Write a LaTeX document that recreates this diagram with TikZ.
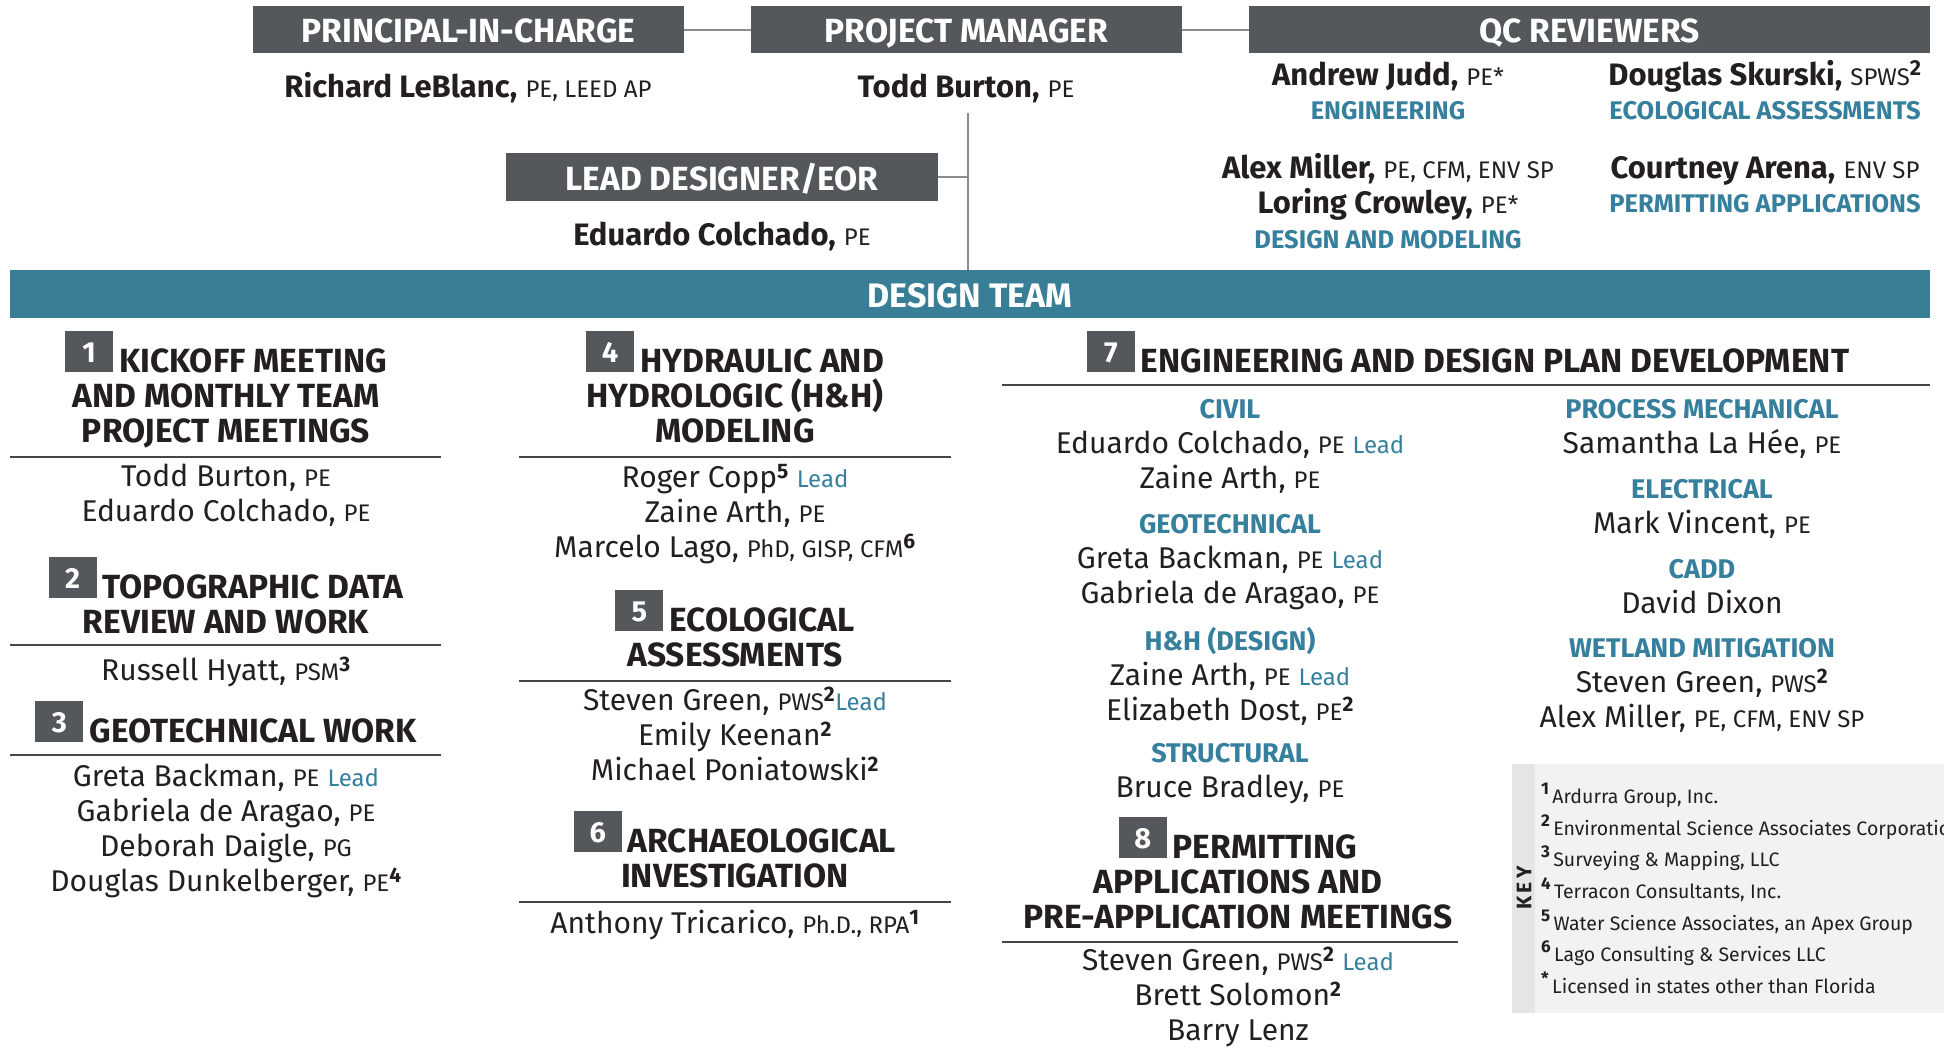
\documentclass[tikz,border=0pt]{standalone}
\usepackage{fontspec}
\setmainfont{Fira Sans}
\usetikzlibrary{positioning}
\definecolor{boxgray}{RGB}{84,88,91}
\definecolor{teamblue}{RGB}{57,126,151}
\definecolor{tealtext}{RGB}{54,128,158}
\definecolor{inkblack}{RGB}{35,31,32}
\definecolor{rulegray}{RGB}{70,70,70}
\definecolor{linkgray}{RGB}{140,140,140}
\definecolor{keybg}{RGB}{241,242,242}
\definecolor{keystrip}{RGB}{228,229,230}

\newcommand{\crd}[1]{{\fontsize{24}{35}\selectfont #1}}
\newcommand{\leadtag}{{\fontsize{24}{35}\selectfont\color{tealtext}Lead}}
\newcommand{\subhd}{\fontsize{27}{35}\selectfont\bfseries\color{tealtext}}
\newcommand{\fnote}[1]{\textsuperscript{\bfseries #1}}
\newcommand{\keynote}[1]{\raisebox{9pt}{\fontsize{17}{17}\selectfont\bfseries #1}\,}
\newcommand{\numbox}[1]{{\color{boxgray}\rule{48pt}{41pt}}\llap{\makebox[48pt]{\color{white}\raisebox{10pt}{\fontsize{29}{29}\selectfont #1}}}\hspace{6pt}}

\begin{document}
\begin{tikzpicture}[x=1pt, y=-1pt,
  hd/.style={fill=boxgray, text=white, font=\fontsize{33.5}{35}\selectfont\bfseries, minimum height=47pt, inner sep=0pt, text height=26pt, text depth=0pt},
  band/.style={fill=teamblue, text=white, font=\fontsize{34}{35}\selectfont\bfseries, minimum width=1920pt, minimum height=48pt, inner sep=0pt, text height=26pt, text depth=0pt},
  tp/.style={text=inkblack, font=\fontsize{31}{35}\selectfont, anchor=base, inner sep=0pt},
  qcsub/.style={text=tealtext, font=\fontsize{25.5}{35}\selectfont\bfseries, anchor=base, inner sep=0pt},
  sec/.style={text=inkblack, font=\fontsize{33.5}{35}\selectfont\bfseries, align=center, anchor=north, inner sep=0pt},
  nl/.style={text=inkblack, font=\fontsize{30}{35}\selectfont, align=center, anchor=north, inner sep=0pt, execute at begin node={\rule{0pt}{26pt}}},
  key/.style={text=inkblack, font=\fontsize{19.5}{31.6}\selectfont, align=left, anchor=north west, inner sep=0pt, execute at begin node={\rule{0pt}{22pt}}},
  rl/.style={draw=rulegray, line width=2pt},
  conn/.style={draw=linkgray, line width=2pt},
]
  \useasboundingbox (0,0) rectangle (1944,1047);

  % Leadership
  \node[hd, minimum width=431pt] (pic) at (468.5,29.5) {PRINCIPAL-IN-CHARGE};
  \node[hd, minimum width=431pt] (pm) at (966.5,29.5) {PROJECT MANAGER};
  \node[hd, minimum width=681pt] (qc) at (1589.5,29.5) {QC REVIEWERS};
  \node[hd, minimum width=432pt, minimum height=48pt] (lead) at (722,177) {LEAD DESIGNER/EOR};
  \node[tp] (picname) at (468,97) {\textbf{Richard LeBlanc,} \crd{PE, LEED AP}};
  \node[tp] (pmname) at (966,97) {\textbf{Todd Burton,} \crd{PE}};
  \node[tp] (leadname) at (722,245) {\textbf{Eduardo Colchado,} \crd{PE}};

  % QC reviewers
  \node[tp] (judd) at (1388,85) {\textbf{Andrew Judd,} \crd{PE*}};
  \node[qcsub] (eng) at (1388,119) {ENGINEERING};
  \node[tp] (skurski) at (1765,85) {\textbf{Douglas Skurski,} \crd{SPWS}\fnote{2}};
  \node[qcsub] (eco) at (1765,119) {ECOLOGICAL ASSESSMENTS};
  \node[tp] (miller) at (1388,178) {\textbf{Alex Miller,} \crd{PE, CFM, ENV SP}};
  \node[tp] (crowley) at (1388,213) {\textbf{Loring Crowley,} \crd{PE*}};
  \node[qcsub] (design) at (1388,248) {DESIGN AND MODELING};
  \node[tp] (arena) at (1765,178) {\textbf{Courtney Arena,} \crd{ENV SP}};
  \node[qcsub] (permit) at (1765,212) {PERMITTING APPLICATIONS};

  % Design team band
  \node[band] (team) at (970,294) {DESIGN TEAM};

  % Links
  \coordinate (trunk) at (968,113);
  \draw[conn] (pic) -- (pm);
  \draw[conn] (pm) -- (qc);
  \draw[conn] (trunk) -- (trunk |- team.north);
  \draw[conn] (lead) -- (lead -| trunk);

  % Column 1
  \node[sec] (s1) at (226,331) {\numbox{1}KICKOFF MEETING\\AND MONTHLY TEAM\\PROJECT MEETINGS};
  \draw[rl] (10,457) -- (441,457);
  \node[nl] (n1) at (226,464) {Todd Burton, \crd{PE}\\Eduardo Colchado, \crd{PE}};
  \node[sec] (s2) at (226,557) {\numbox{2}TOPOGRAPHIC DATA\\REVIEW AND WORK};
  \draw[rl] (10,645) -- (441,645);
  \node[nl] (n2) at (226,654) {Russell Hyatt, \crd{PSM}\fnote{3}};
  \node[sec] (s3) at (226,701) {\numbox{3}GEOTECHNICAL WORK};
  \draw[rl] (10,755) -- (441,755);
  \node[nl] (n3) at (226,764) {Greta Backman, \crd{PE} \leadtag\\Gabriela de Aragao, \crd{PE}\\Deborah Daigle, \crd{PG}\\Douglas Dunkelberger, \crd{PE}\fnote{4}};

  % Column 2
  \node[sec] (s4) at (735,331) {\numbox{4}HYDRAULIC AND\\HYDROLOGIC (H\&H)\\MODELING};
  \draw[rl] (519,457) -- (951,457);
  \node[nl] (n4) at (735,464) {Roger Copp\fnote{5} \leadtag\\Zaine Arth, \crd{PE}\\Marcelo Lago, \crd{PhD, GISP, CFM}\fnote{6}};
  \node[sec] (s5) at (735,590) {\numbox{5}ECOLOGICAL\\ASSESSMENTS};
  \draw[rl] (519,681) -- (951,681);
  \node[nl] (n5) at (735,687) {Steven Green, \crd{PWS}\fnote{2}\leadtag\\Emily Keenan\fnote{2}\\Michael Poniatowski\fnote{2}};
  \node[sec] (s6) at (735,811) {\numbox{6}ARCHAEOLOGICAL\\INVESTIGATION};
  \draw[rl] (519,902) -- (951,902);
  \node[nl] (n6) at (735,907) {Anthony Tricarico, \crd{Ph.D., RPA}\fnote{1}};

  % Column 3
  \node[sec] (s7) at (1468,331) {\numbox{7}ENGINEERING AND DESIGN PLAN DEVELOPMENT};
  \draw[rl] (1002,385) -- (1930,385);
  \node[nl] (civil) at (1230,399) {{\subhd CIVIL}\\Eduardo Colchado, \crd{PE} \leadtag\\Zaine Arth, \crd{PE}};
  \node[nl] (geo) at (1230,514) {{\subhd GEOTECHNICAL}\\Greta Backman, \crd{PE} \leadtag\\Gabriela de Aragao, \crd{PE}};
  \node[nl] (hh) at (1230,627) {{\subhd H\&H (DESIGN)}\\Zaine Arth, \crd{PE} \leadtag\\Elizabeth Dost, \crd{PE}\fnote{2}};
  \node[nl] (struct) at (1230,743) {{\subhd STRUCTURAL}\\Bruce Bradley, \crd{PE}};
  \node[nl] (procmech) at (1702,399) {{\subhd PROCESS MECHANICAL}\\Samantha La Hée, \crd{PE}};
  \node[nl] (elec) at (1702,479) {{\subhd ELECTRICAL}\\Mark Vincent, \crd{PE}};
  \node[nl] (cadd) at (1702,559) {{\subhd CADD}\\David Dixon};
  \node[nl] (wetland) at (1702,638) {{\subhd WETLAND MITIGATION}\\Steven Green, \crd{PWS}\fnote{2}\\Alex Miller, \crd{PE, CFM, ENV SP}};
  \node[sec] (s8) at (1238,817) {\numbox{8}PERMITTING\\APPLICATIONS AND\\PRE-APPLICATION MEETINGS};
  \draw[rl] (1002,942) -- (1458,942);
  \node[nl] (n8) at (1238,947) {Steven Green, \crd{PWS}\fnote{2} \leadtag\\Brett Solomon\fnote{2}\\Barry Lenz};

  % Key
  \fill[keybg] (1512,764) rectangle (1944,1013);
  \fill[keystrip] (1512,764) rectangle (1535,1013);
  \node[rotate=90, text=inkblack, font=\fontsize{21}{21}\selectfont\bfseries] (keylabel) at (1524,888) {K\,E\,Y};
  \node[key] (keylist) at (1541,783) {\keynote{1}Ardurra Group, Inc.\\\keynote{2}Environmental Science Associates Corporation\\\keynote{3}Surveying \& Mapping, LLC\\\keynote{4}Terracon Consultants, Inc.\\\keynote{5}Water Science Associates, an Apex Group\\\keynote{6}Lago Consulting \& Services LLC\\\keynote{*}Licensed in states other than Florida};
\end{tikzpicture}
\end{document}
